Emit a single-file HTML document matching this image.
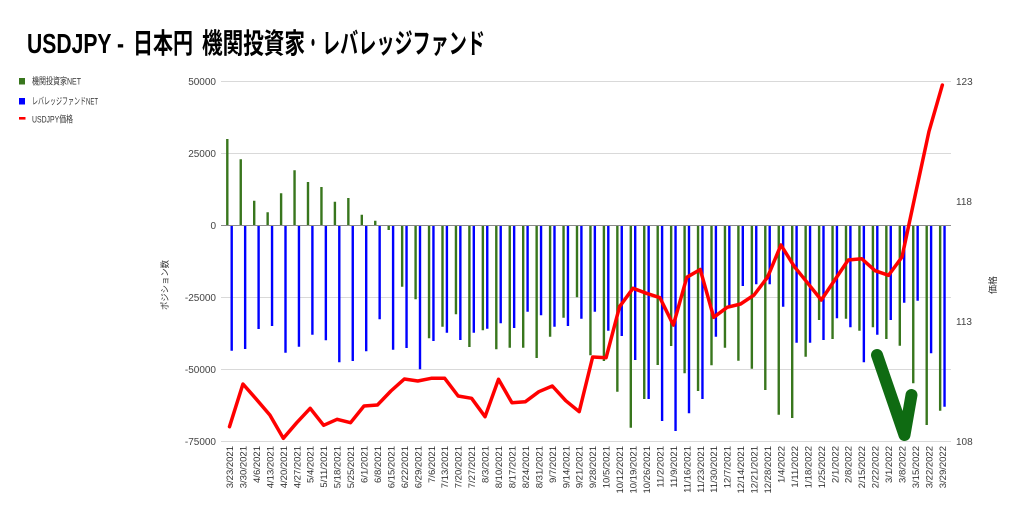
<!DOCTYPE html>
<html><head><meta charset="utf-8"><style>
html,body{margin:0;padding:0;background:#fff;}
svg{display:block;}
text{font-family:"Liberation Sans","Noto Sans CJK JP",sans-serif;}
</style></head><body>
<svg width="1024" height="521" viewBox="0 0 1024 521" xmlns="http://www.w3.org/2000/svg">
<rect width="1024" height="521" fill="#fff"/>
<!-- Title -->
<g font-weight="bold" font-size="28" fill="#000">
<text x="27" y="53" textLength="97" lengthAdjust="spacingAndGlyphs">USDJPY -</text>
<text x="133" y="53" textLength="60" lengthAdjust="spacingAndGlyphs">日本円</text>
<text x="202" y="53" textLength="103" lengthAdjust="spacingAndGlyphs">機関投資家</text>
<text x="307" y="53" textLength="12" lengthAdjust="spacingAndGlyphs">・</text>
<text x="322" y="53" textLength="163" lengthAdjust="spacingAndGlyphs">レバレッジファンド</text>
</g>
<!-- Legend -->
<rect x="19" y="78" width="6" height="6.5" fill="#38761d"/>
<text x="32" y="84.5" font-size="9.5" fill="#333" textLength="49" lengthAdjust="spacingAndGlyphs">機関投資家NET</text>
<rect x="19" y="98" width="6" height="6.5" fill="#0000ff"/>
<text x="32" y="104.5" font-size="9.5" fill="#333" textLength="66" lengthAdjust="spacingAndGlyphs">レバレッジファンドNET</text>
<rect x="19" y="117" width="6.5" height="2.6" fill="#ff0000"/>
<text x="32" y="122.5" font-size="9.5" fill="#333" textLength="41" lengthAdjust="spacingAndGlyphs">USDJPY価格</text>
<!-- Gridlines -->
<g stroke="#d9d9d9" stroke-width="1">
<line x1="221" y1="81.5" x2="951" y2="81.5"/>
<line x1="221" y1="153.5" x2="951" y2="153.5"/>
<line x1="221" y1="297.5" x2="951" y2="297.5"/>
<line x1="221" y1="369.5" x2="951" y2="369.5"/>
<line x1="221" y1="441.5" x2="951" y2="441.5"/>
</g>
<!-- Left axis labels -->
<g font-size="10" fill="#444" text-anchor="end">
<text x="216" y="85">50000</text>
<text x="216" y="157">25000</text>
<text x="216" y="229">0</text>
<text x="216" y="301">-25000</text>
<text x="216" y="373">-50000</text>
<text x="216" y="445">-75000</text>
</g>
<!-- Right axis labels -->
<g font-size="10" fill="#444">
<text x="956" y="85">123</text>
<text x="956" y="205">118</text>
<text x="956" y="325">113</text>
<text x="956" y="445">108</text>
</g>
<!-- Axis titles -->
<text transform="translate(168,310) rotate(-90)" font-size="9" fill="#333" textLength="50" lengthAdjust="spacingAndGlyphs">ポジション数</text>
<text transform="translate(996,294) rotate(-90)" font-size="9" fill="#333">価格</text>
<!-- Green bars -->
<path fill="none" stroke="#38761d" stroke-width="2.4" d="M227.3 225V139M240.75 225V159.3M254.2 225V200.7M267.65 225V212.3M281.1 225V193.3M294.55 225V170.3M308 225V182M321.45 225V187M334.9 225V201.7M348.35 225V198M361.8 225V214.7M375.25 225V220.7M388.7 225V230M402.15 225V286.7M415.6 225V299.3M429.05 225V338.3M442.5 225V326.7M455.95 225V314.3M469.4 225V347M482.85 225V330.3M496.3 225V349.3M509.75 225V347.7M523.2 225V347.7M536.65 225V358M550.1 225V336.7M563.55 225V317.7M577 225V297.3M590.45 225V355.3M603.9 225V361M617.35 225V391.7M630.8 225V427.7M644.25 225V399M657.7 225V365M671.15 225V346M684.6 225V373.3M698.05 225V391M711.5 225V365.3M724.95 225V347.7M738.4 225V360.7M751.85 225V368.7M765.3 225V390M778.75 225V414.7M792.2 225V418M805.65 225V356.7M819.1 225V320M832.55 225V339M846 225V318.7M859.45 225V330.7M872.9 225V327.3M886.35 225V339M899.8 225V345.7M913.25 225V383.3M926.7 225V425M940.15 225V410.7"/>
<!-- Blue bars -->
<path fill="none" stroke="#0000ff" stroke-width="2.4" d="M231.7 225V350.7M245.15 225V349M258.6 225V329M272.05 225V326M285.5 225V352.7M298.95 225V346.7M312.4 225V334.7M325.85 225V340.3M339.3 225V362.3M352.75 225V361M366.2 225V351.3M379.65 225V319.3M393.1 225V349.7M406.55 225V348M420 225V369.3M433.45 225V341M446.9 225V332.7M460.35 225V340M473.8 225V332.7M487.25 225V328.7M500.7 225V323.3M514.15 225V328M527.6 225V311.7M541.05 225V315.3M554.5 225V326.7M567.95 225V326M581.4 225V318.7M594.85 225V311.7M608.3 225V330.7M621.75 225V336M635.2 225V360M648.65 225V399M662.1 225V421M675.55 225V431M689 225V413.3M702.45 225V399M715.9 225V336.7M729.35 225V307.3M742.8 225V286M756.25 225V284.3M769.7 225V284.3M783.15 225V306.7M796.6 225V342.7M810.05 225V342.7M823.5 225V340M836.95 225V318.3M850.4 225V327.3M863.85 225V362.3M877.3 225V334.7M890.75 225V320M904.2 225V302.7M917.65 225V300.7M931.1 225V353.3M944.55 225V406.7"/>
<!-- Zero line -->
<line x1="221" y1="225.5" x2="951" y2="225.5" stroke="#8a8a8a" stroke-width="1"/>
<!-- Red price line -->
<polyline fill="none" stroke="#ff0000" stroke-width="3.5" stroke-linejoin="round" stroke-linecap="round" points="229.5,426.7 242.95,384 256.4,399.3 269.85,415 283.3,438.3 296.75,422.7 310.2,408.3 323.65,425.3 337.1,419.3 350.55,422.7 364,406 377.45,405 390.9,391 404.35,379 417.8,381 431.25,378.3 444.7,378.3 458.15,396 471.6,398.3 485.05,416.7 498.5,379.3 511.95,402.7 525.4,401.7 538.85,391.7 552.3,386 565.75,400.7 579.2,411.7 592.65,357 606.1,357.7 619.55,306.7 633,288.3 646.45,293.3 659.9,297.7 673.35,325 686.8,277.3 700.25,269.5 713.7,317.3 727.15,307.3 740.6,304 754.05,295 767.5,277.3 780.95,245 794.4,266.7 807.85,283.3 821.3,300 834.75,280 848.2,260 861.65,258.7 875.1,270.7 888.55,275.3 902,257 915.45,194 928.9,131.7 942.35,85"/>
<!-- Green arrow annotation -->
<path d="M877,355 L904.5,435 L911.5,395" fill="none" stroke="#0f6b12" stroke-width="12" stroke-linecap="round" stroke-linejoin="round"/>
<!-- X labels -->
<g font-size="9.5" fill="#333" text-anchor="end">
<text transform="translate(233,446) rotate(-90)">3/23/2021</text>
<text transform="translate(246.45,446) rotate(-90)">3/30/2021</text>
<text transform="translate(259.9,446) rotate(-90)">4/6/2021</text>
<text transform="translate(273.35,446) rotate(-90)">4/13/2021</text>
<text transform="translate(286.8,446) rotate(-90)">4/20/2021</text>
<text transform="translate(300.25,446) rotate(-90)">4/27/2021</text>
<text transform="translate(313.7,446) rotate(-90)">5/4/2021</text>
<text transform="translate(327.15,446) rotate(-90)">5/11/2021</text>
<text transform="translate(340.6,446) rotate(-90)">5/18/2021</text>
<text transform="translate(354.05,446) rotate(-90)">5/25/2021</text>
<text transform="translate(367.5,446) rotate(-90)">6/1/2021</text>
<text transform="translate(380.95,446) rotate(-90)">6/8/2021</text>
<text transform="translate(394.4,446) rotate(-90)">6/15/2021</text>
<text transform="translate(407.85,446) rotate(-90)">6/22/2021</text>
<text transform="translate(421.3,446) rotate(-90)">6/29/2021</text>
<text transform="translate(434.75,446) rotate(-90)">7/6/2021</text>
<text transform="translate(448.2,446) rotate(-90)">7/13/2021</text>
<text transform="translate(461.65,446) rotate(-90)">7/20/2021</text>
<text transform="translate(475.1,446) rotate(-90)">7/27/2021</text>
<text transform="translate(488.55,446) rotate(-90)">8/3/2021</text>
<text transform="translate(502,446) rotate(-90)">8/10/2021</text>
<text transform="translate(515.45,446) rotate(-90)">8/17/2021</text>
<text transform="translate(528.9,446) rotate(-90)">8/24/2021</text>
<text transform="translate(542.35,446) rotate(-90)">8/31/2021</text>
<text transform="translate(555.8,446) rotate(-90)">9/7/2021</text>
<text transform="translate(569.25,446) rotate(-90)">9/14/2021</text>
<text transform="translate(582.7,446) rotate(-90)">9/21/2021</text>
<text transform="translate(596.15,446) rotate(-90)">9/28/2021</text>
<text transform="translate(609.6,446) rotate(-90)">10/5/2021</text>
<text transform="translate(623.05,446) rotate(-90)">10/12/2021</text>
<text transform="translate(636.5,446) rotate(-90)">10/19/2021</text>
<text transform="translate(649.95,446) rotate(-90)">10/26/2021</text>
<text transform="translate(663.4,446) rotate(-90)">11/2/2021</text>
<text transform="translate(676.85,446) rotate(-90)">11/9/2021</text>
<text transform="translate(690.3,446) rotate(-90)">11/16/2021</text>
<text transform="translate(703.75,446) rotate(-90)">11/23/2021</text>
<text transform="translate(717.2,446) rotate(-90)">11/30/2021</text>
<text transform="translate(730.65,446) rotate(-90)">12/7/2021</text>
<text transform="translate(744.1,446) rotate(-90)">12/14/2021</text>
<text transform="translate(757.55,446) rotate(-90)">12/21/2021</text>
<text transform="translate(771,446) rotate(-90)">12/28/2021</text>
<text transform="translate(784.45,446) rotate(-90)">1/4/2022</text>
<text transform="translate(797.9,446) rotate(-90)">1/11/2022</text>
<text transform="translate(811.35,446) rotate(-90)">1/18/2022</text>
<text transform="translate(824.8,446) rotate(-90)">1/25/2022</text>
<text transform="translate(838.25,446) rotate(-90)">2/1/2022</text>
<text transform="translate(851.7,446) rotate(-90)">2/8/2022</text>
<text transform="translate(865.15,446) rotate(-90)">2/15/2022</text>
<text transform="translate(878.6,446) rotate(-90)">2/22/2022</text>
<text transform="translate(892.05,446) rotate(-90)">3/1/2022</text>
<text transform="translate(905.5,446) rotate(-90)">3/8/2022</text>
<text transform="translate(918.95,446) rotate(-90)">3/15/2022</text>
<text transform="translate(932.4,446) rotate(-90)">3/22/2022</text>
<text transform="translate(945.85,446) rotate(-90)">3/29/2022</text>
</g>
</svg>
</body></html>
